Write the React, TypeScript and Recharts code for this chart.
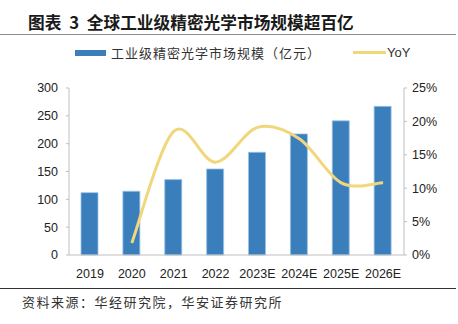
import { Bar, ComposedChart, Line, XAxis, YAxis } from 'recharts';

const years = ['2019', '2020', '2021', '2022', '2023E', '2024E', '2025E', '2026E'];
const marketSize = [112, 114.5, 135.5, 154.5, 184.5, 217.5, 241, 267];
const yoyPct = [null, 1.8, 18.5, 13.9, 19.1, 17.4, 10.8, 10.8];
const leftTicks = [0, 50, 100, 150, 200, 250, 300];
const rightTicks = [0, 5, 10, 15, 20, 25];

const data = years.map((year, i) => ({ year, size: marketSize[i], yoy: yoyPct[i] }));

const cjk = '"Noto Sans CJK SC", "Liberation Sans", sans-serif';
const num = '"Liberation Sans", Arial, sans-serif';
const axisGray = '#bfbfbf';
const tickStyle = { fill: '#222', fontSize: 12.5, fontFamily: num };

// Excel-style smoothed line: cubic bezier through every point, control points at 1/6 of neighbour span
function excelSmooth(context: any) {
  let pts: number[][] = [];
  return {
    areaStart() {},
    areaEnd() {},
    lineStart() {
      pts = [];
    },
    point(x: number, y: number) {
      pts.push([+x, +y]);
    },
    lineEnd() {
      if (!pts.length) return;
      context.moveTo(pts[0][0], pts[0][1]);
      for (let i = 0; i < pts.length - 1; i++) {
        const p0 = pts[i - 1] || pts[i];
        const p1 = pts[i];
        const p2 = pts[i + 1];
        const p3 = pts[i + 2] || p2;
        context.bezierCurveTo(
          p1[0] + (p2[0] - p0[0]) / 6,
          p1[1] + (p2[1] - p0[1]) / 6,
          p2[0] - (p3[0] - p1[0]) / 6,
          p2[1] - (p3[1] - p1[1]) / 6,
          p2[0],
          p2[1],
        );
      }
    },
  };
}

export default function App() {
  return (
    <div style={{ position: 'fixed', left: 0, top: 0, width: 458, height: 324, background: '#fff', fontFamily: cjk }}>
      <div style={{ position: 'absolute', left: 28, top: 10, fontSize: 16.7, fontWeight: 700, wordSpacing: 4, color: '#1a1a1a', lineHeight: '24px', whiteSpace: 'nowrap' }}>
        图表 3 全球工业级精密光学市场规模超百亿
      </div>
      <div style={{ position: 'absolute', left: 0, top: 34, width: 456, height: 1, background: '#8c8c8c' }} />

      <div style={{ position: 'absolute', left: 75, top: 50, width: 31, height: 6, background: '#3a7fbc' }} />
      <div style={{ position: 'absolute', left: 111, top: 43, fontSize: 13, letterSpacing: 1, color: '#333', lineHeight: '20px', whiteSpace: 'nowrap' }}>
        工业级精密光学市场规模（亿元）
      </div>
      <div style={{ position: 'absolute', left: 353, top: 51, width: 33, height: 3, background: '#f0d77c' }} />
      <div style={{ position: 'absolute', left: 387, top: 43, fontSize: 13, fontFamily: num, color: '#333', lineHeight: '20px' }}>
        YoY
      </div>

      <div style={{ position: 'absolute', left: 0, top: 0 }}>
        <ComposedChart width={458} height={324} data={data} margin={{ top: 88, right: 0, bottom: 0, left: 0 }}>
          <XAxis
            dataKey="year"
            tick={tickStyle}
            tickLine={false}
            axisLine={{ stroke: axisGray }}
            tickMargin={8}
            height={69}
            interval={0}
          />
          <YAxis
            yAxisId="left"
            domain={[0, 300]}
            ticks={leftTicks}
            tick={tickStyle}
            tickSize={3}
            tickMargin={8}
            tickLine={{ stroke: axisGray }}
            axisLine={{ stroke: axisGray }}
            width={69}
          />
          <YAxis
            yAxisId="right"
            orientation="right"
            domain={[0, 25]}
            ticks={rightTicks}
            tickFormatter={(v: number) => `${v}%`}
            tick={{ ...tickStyle, textAnchor: 'start' }}
            tickSize={3}
            tickMargin={5}
            tickLine={{ stroke: axisGray }}
            axisLine={{ stroke: axisGray }}
            width={54}
          />
          <Bar yAxisId="left" dataKey="size" fill="#3a7fbc" stroke="#9cc2e4" strokeWidth={0.8} barSize={17} isAnimationActive={false} />
          <Line
            yAxisId="right"
            dataKey="yoy"
            type={excelSmooth as any}
            stroke="#f0d77c"
            strokeWidth={3}
            dot={false}
            activeDot={false}
            connectNulls={false}
            isAnimationActive={false}
          />
        </ComposedChart>
      </div>

      <div style={{ position: 'absolute', left: 0, top: 288, width: 456, height: 1, background: '#333' }} />
      <div style={{ position: 'absolute', left: 22, top: 292, fontSize: 13, letterSpacing: 1.5, color: '#333', lineHeight: '20px', whiteSpace: 'nowrap' }}>
        资料来源：华经研究院，华安证券研究所
      </div>
    </div>
  );
}
